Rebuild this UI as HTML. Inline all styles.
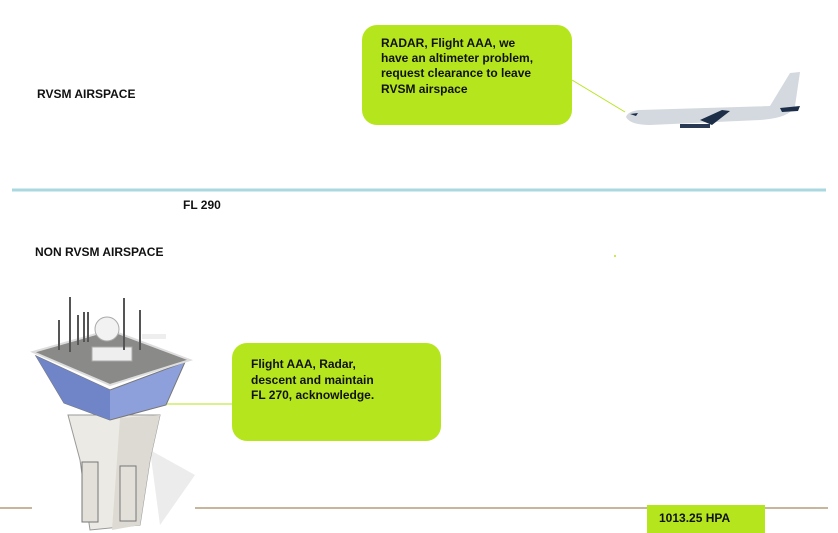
<!DOCTYPE html>
<html><head><style>
body{margin:0;background:#fff;}
svg{display:block;font-family:"Liberation Sans",sans-serif;}
</style></head><body>
<svg width="838" height="533" viewBox="0 0 838 533">
<rect width="838" height="533" fill="#fff"/>
<line x1="12" y1="190" x2="826" y2="190" stroke="#a9d8e0" stroke-width="3"/>
<line x1="0" y1="508" x2="32" y2="508" stroke="#a88a60" stroke-width="1.3"/>
<line x1="195" y1="508" x2="828" y2="508" stroke="#a88a60" stroke-width="1.3"/>
<text x="37" y="98" font-size="12" font-weight="bold" fill="#111">RVSM AIRSPACE</text>
<text x="183" y="209" font-size="12" font-weight="bold" fill="#111">FL 290</text>
<text x="35" y="256" font-size="12" font-weight="bold" fill="#111">NON RVSM AIRSPACE</text>
<line x1="572" y1="80" x2="625" y2="112" stroke="#b5e61d" stroke-width="1"/>
<rect x="362" y="25" width="210" height="100" rx="15" fill="#b5e61d"/>
<text font-size="12" font-weight="bold" fill="#111">
<tspan x="381" y="47">RADAR, Flight AAA, we</tspan>
<tspan x="381" y="62">have an altimeter problem,</tspan>
<tspan x="381" y="77">request clearance to leave</tspan>
<tspan x="381" y="93">RVSM airspace</tspan></text>
<path d="M626 117 Q628 111 640 110 L770 106 L790 73 L800 72 L795 106 Q790 118 760 120 L650 125 Q630 125 626 117Z" fill="#d3d9de"/>
<path d="M700 120 L722 110 L730 111 L712 125 Z" fill="#1c2e48"/>
<path d="M780 108 L800 106 L798 111 L782 112Z" fill="#1c2e48"/>
<rect x="680" y="124" width="30" height="4" fill="#2a3a55"/>
<path d="M630 114 L638 113 L636 116 Z" fill="#1c2e48"/>
<circle cx="615" cy="256" r="1" fill="#b5e61d"/>
<line x1="165" y1="404" x2="232" y2="404" stroke="#b5e61d" stroke-width="1"/>
<path d="M150 450 L195 475 L160 525Z" fill="#ececec"/>
<path d="M68 415 L160 415 L150 460 L140 525 L90 530 L80 460Z" fill="#eceae4" stroke="#999" stroke-width="1"/>
<path d="M120 418 L160 415 L150 460 L140 525 L112 530Z" fill="#dcdad2"/>
<rect x="82" y="462" width="16" height="60" fill="#e2e0d9" stroke="#777"/>
<rect x="120" y="466" width="16" height="55" fill="#e2e0d9" stroke="#777"/>
<path d="M36 356 L110 390 L185 362 L166 405 L110 420 L64 403Z" fill="#8ea0dc" stroke="#777"/>
<path d="M110 390 L110 420 L64 403 L36 356Z" fill="#7084c8"/>
<path d="M33 352 L110 330 L190 360 L110 385Z" fill="#8a8a88" stroke="#ddd" stroke-width="2"/>
<rect x="92" y="347" width="40" height="14" fill="#eee" stroke="#aaa"/>
<circle cx="107" cy="329" r="12" fill="#f2f2f2" stroke="#aaa"/>
<rect x="142" y="334" width="24" height="5" fill="#eee"/>
<g stroke="#555" stroke-width="2">
<line x1="70" y1="297" x2="70" y2="352"/><line x1="59" y1="320" x2="59" y2="350"/>
<line x1="78" y1="315" x2="78" y2="345"/><line x1="84" y1="312" x2="84" y2="342"/>
<line x1="88" y1="312" x2="88" y2="342"/><line x1="124" y1="298" x2="124" y2="350"/>
<line x1="140" y1="310" x2="140" y2="350"/></g>
<rect x="232" y="343" width="209" height="98" rx="15" fill="#b5e61d"/>
<text font-size="12" font-weight="bold" fill="#111">
<tspan x="251" y="368">Flight AAA, Radar,</tspan>
<tspan x="251" y="384">descent and maintain</tspan>
<tspan x="251" y="399">FL 270, acknowledge.</tspan></text>
<rect x="647" y="505" width="118" height="28" fill="#b5e61d"/>
<text x="659" y="522" font-size="12" font-weight="bold" fill="#111">1013.25 HPA</text>
</svg>
</body></html>
